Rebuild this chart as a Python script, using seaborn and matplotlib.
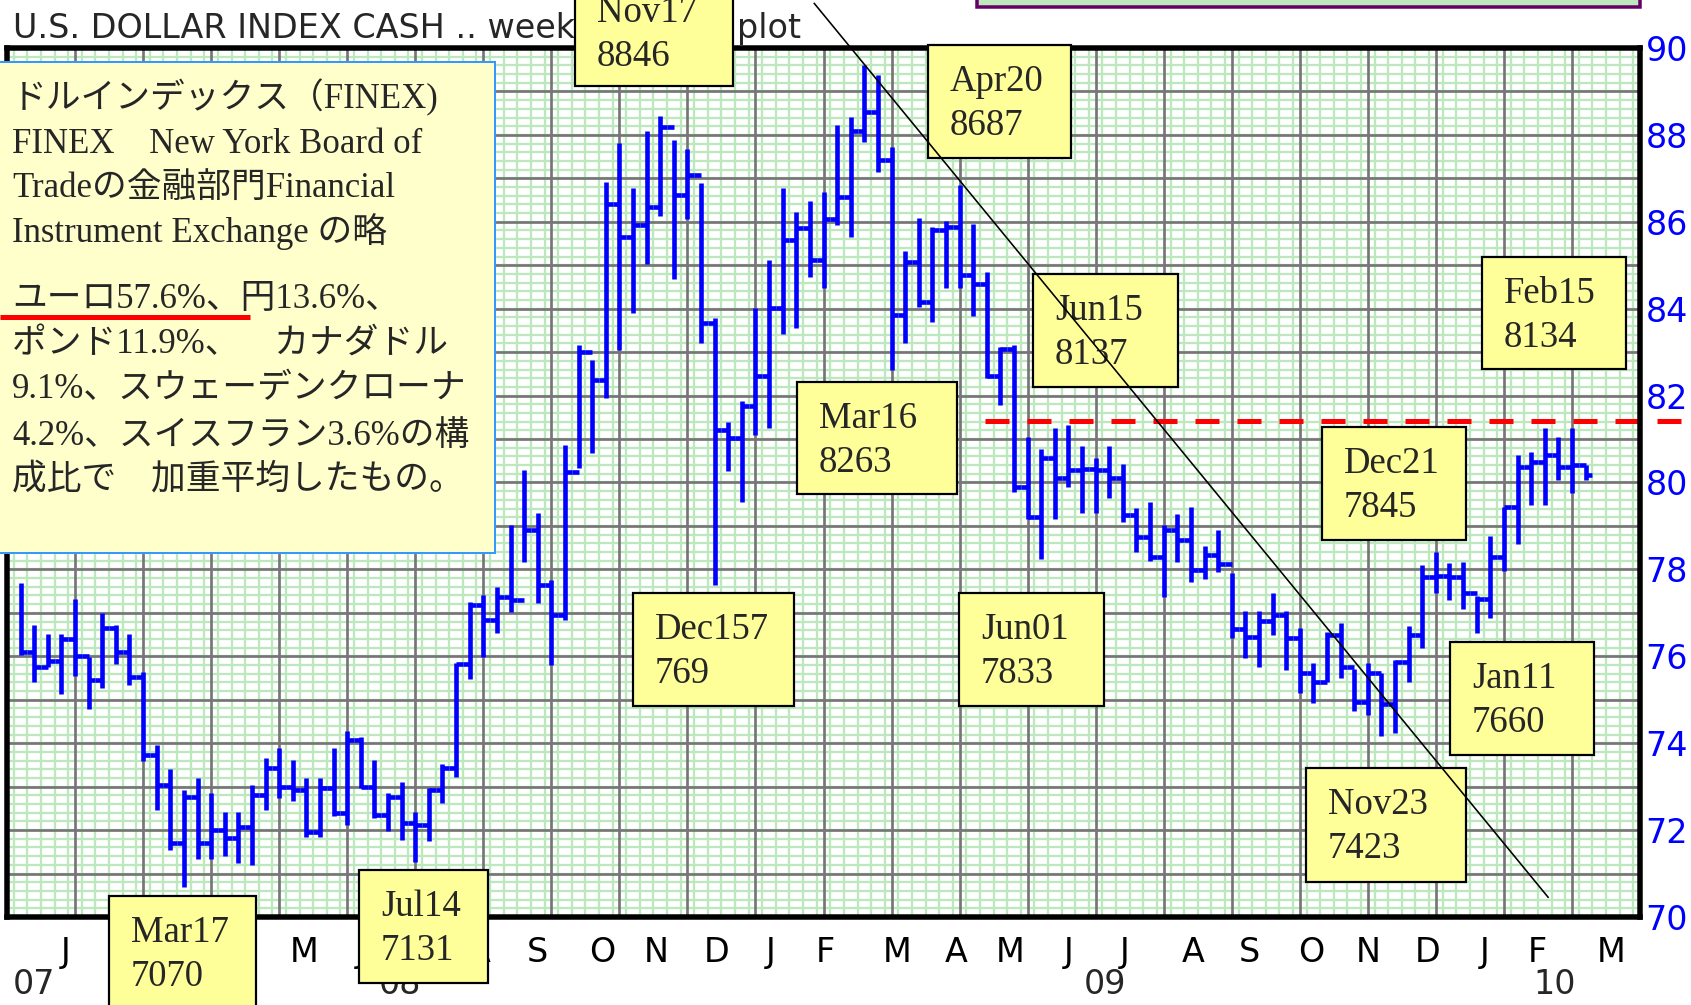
import numpy as np
import pandas as pd
import seaborn as sns
import matplotlib.pyplot as plt
import matplotlib.transforms as mtransforms
from matplotlib.patches import Rectangle

# --- Data (values in index points) ---

FIRST_WEEK = "2007-12-24"   # Monday of the first bar

HIGH = [77.68, 76.72, 76.51, 76.51, 77.33, 75.99, 76.99, 76.72, 76.51, 75.65,
        73.96, 73.40, 72.92, 73.19, 72.85, 72.42, 72.42, 73.04, 73.67, 73.88,
        73.61, 73.19, 73.19, 73.88, 74.27, 74.14, 73.61, 72.85, 73.11, 72.42,
        72.96, 73.52, 75.85, 77.26, 77.41, 77.60, 79.02, 80.29, 79.29, 77.76,
        80.86, 83.16, 82.82, 86.92, 87.82, 86.77, 88.10, 88.43, 87.88, 87.67,
        86.89, 83.78, 81.40, 81.88, 84.01, 85.12, 86.77, 86.23, 86.49, 86.69,
        88.23, 88.42, 89.60, 89.38, 87.73, 85.33, 86.09, 85.89, 86.01, 86.84,
        85.96, 84.85, 83.11, 83.16, 81.05, 80.76, 81.25, 81.32, 80.84, 80.56,
        80.84, 80.43, 79.41, 79.56, 79.02, 79.27, 79.44, 78.55, 78.90, 77.92,
        77.05, 77.05, 77.45, 77.05, 76.64, 75.85, 76.55, 76.76, 75.70, 75.85,
        75.61, 75.92, 76.69, 78.10, 78.41, 78.14, 78.16, 77.39, 78.77, 79.44,
        80.63, 80.71, 81.25, 81.05, 81.25, 80.40]

LOW = [76.03, 75.42, 75.76, 75.13, 75.55, 74.78, 75.26, 75.82, 75.34, 73.58,
       72.46, 71.54, 70.70, 71.33, 71.33, 71.40, 71.25, 71.20, 72.46, 72.73,
       72.67, 71.83, 71.83, 72.32, 72.12, 72.96, 72.27, 71.98, 71.77, 71.27,
       71.75, 72.62, 73.23, 75.47, 75.98, 76.54, 77.03, 78.18, 77.22, 75.80,
       76.84, 80.33, 80.67, 81.94, 83.06, 83.89, 85.04, 86.13, 84.68, 86.06,
       83.20, 77.64, 80.26, 79.56, 81.09, 81.25, 83.42, 83.55, 84.74, 84.47,
       85.93, 85.66, 87.84, 87.15, 82.59, 83.21, 84.03, 83.70, 84.48, 84.48,
       83.84, 82.40, 81.78, 79.77, 79.15, 78.25, 79.15, 79.90, 79.29, 79.29,
       79.64, 79.10, 78.41, 78.19, 77.37, 78.18, 77.71, 77.79, 77.93, 76.41,
       75.97, 75.76, 76.49, 75.68, 75.15, 74.93, 75.42, 75.49, 74.73, 74.65,
       74.17, 74.24, 75.42, 76.20, 77.45, 77.30, 77.08, 76.53, 76.87, 77.97,
       78.58, 79.48, 79.48, 80.06, 79.75, 80.06]

CLOSE = [76.10, 75.76, 75.90, 76.40, 76.00, 75.45, 76.65, 76.10, 75.53, 73.73,
         73.04, 71.70, 72.77, 71.70, 72.00, 71.81, 72.08, 72.80, 73.42, 73.00,
         72.92, 71.96, 72.96, 72.39, 74.07, 73.00, 72.35, 72.77, 72.16, 72.12,
         72.92, 73.42, 75.82, 77.18, 76.84, 77.37, 77.30, 78.91, 77.64, 76.95,
         80.25, 83.01, 82.37, 86.40, 85.66, 85.93, 86.35, 88.19, 86.62, 87.08,
         83.66, 81.21, 81.02, 81.77, 82.44, 84.01, 85.58, 85.85, 85.12, 86.06,
         86.58, 88.10, 88.53, 87.42, 83.86, 85.08, 84.16, 85.81, 85.89, 84.78,
         84.56, 82.45, 83.07, 79.90, 79.21, 80.56, 80.10, 80.29, 80.30, 80.29,
         80.10, 79.25, 78.75, 78.29, 78.90, 78.68, 77.99, 78.33, 78.12, 76.63,
         76.45, 76.82, 76.95, 76.42, 75.61, 75.42, 76.49, 75.76, 74.95, 75.61,
         74.90, 75.88, 76.49, 77.83, 77.85, 77.83, 77.45, 77.33, 78.29, 79.44,
         80.35, 80.48, 80.63, 80.35, 80.40, 80.17]

MONTH_LABELS = ["J", "F", "M", "A", "M", "J", "J", "A", "S", "O", "N", "D",
                "J", "F", "M", "A", "M", "J", "J", "A", "S", "O", "N", "D",
                "J", "F", "M"]
MONTH_DATES = ["2008-01-16", "2008-02-16", "2008-03-17", "2008-04-17", "2008-05-18",
               "2008-06-16", "2008-07-17", "2008-08-16", "2008-09-15", "2008-10-18",
               "2008-11-15", "2008-12-16", "2009-01-13", "2009-02-10", "2009-03-19",
               "2009-04-18", "2009-05-16", "2009-06-15", "2009-07-14", "2009-08-18",
               "2009-09-16", "2009-10-18", "2009-11-16", "2009-12-17", "2010-01-15",
               "2010-02-11", "2010-03-21"]
YEAR_LABELS = ["07", "08", "09", "10"]
YEAR_DATES = ["2007-12-31", "2008-07-06", "2009-07-04", "2010-02-20"]

Y_TICKS = [70, 72, 74, 76, 78, 80, 82, 84, 86, 88, 90]

NOTE_TEXTS = ["Nov17\n8846", "Apr20\n8687", "Mar16\n8263", "Dec157\n769",
              "Jun01\n7833", "Jun15\n8137", "Dec21\n7845", "Feb15\n8134",
              "Jan11\n7660", "Nov23\n7423", "Mar17\n7070", "Jul14\n7131"]

TREND_DATES = ["2009-02-04", "2010-02-17"]
TREND_VALUES = [91.04, 70.44]

RESIST_START = "2009-05-03"
RESIST_LEVEL = 81.42

TITLE_LEFT = "U.S. DOLLAR INDEX CASH .. weekly bar"
TITLE_RIGHT = "plot"

INFO_LINES = ["ドルインデックス（FINEX)",
              "FINEX　New York Board of",
              "Tradeの金融部門Financial",
              "Instrument Exchange の略",
              "ユーロ57.6%、円13.6%、",
              "ポンド11.9%、　カナダドル",
              "9.1%、スウェーデンクローナ",
              "4.2%、スイスフラン3.6%の構",
              "成比で　加重平均したもの。"]

# --- Layout (pixels from the top-left corner of the picture) ---
W, H = 1691, 1005
AX_L, AX_R, AX_T, AX_B = 7, 1640, 48, 917
NOTE_BOXES = [(575, -24, 733, 86), (928, 45, 1071, 158), (797, 382, 957, 494),
              (633, 593, 794, 706), (959, 593, 1104, 706), (1033, 274, 1178, 387),
              (1322, 427, 1466, 540), (1482, 257, 1626, 369), (1450, 642, 1594, 755),
              (1306, 768, 1466, 882), (109, 896, 256, 1010), (359, 870, 488, 983)]
INFO_BASELINES = [108, 153, 197, 242, 308, 353, 398, 445, 488]

BLUE = "#0000ff"
GREEN = "#bde8bd"
GRID = "#767676"
PX2PT = 0.72


def to_week(d):
    return (pd.Timestamp(d) - pd.Timestamp(FIRST_WEEK)).days / 7.0


sns.set_style("white")
plt.rcParams["font.family"] = ["DejaVu Sans"]
plt.rcParams["lines.solid_capstyle"] = "butt"

fig = plt.figure(figsize=(W / 100, H / 100), dpi=100)
fig.patch.set_facecolor("white")
PX = mtransforms.Affine2D().scale(1 / W, -1 / H).translate(0, 1) + fig.transFigure

ax = fig.add_axes([AX_L / W, 1 - AX_B / H, (AX_R - AX_L) / W, (AX_B - AX_T) / H])
ax.set_facecolor("white")

n = len(HIGH)
bars = pd.DataFrame({"week": np.arange(n), "high": HIGH, "low": LOW, "close": CLOSE})
bars["open"] = bars["close"].shift(1)

x0, x1 = -1, 119
ax.set_xlim(x0, x1)
ax.set_ylim(70, 90)

# light green background mesh
for v in np.arange(70.2, 90, 0.2):
    ax.axhline(v, color=GREEN, lw=2.3 * PX2PT, zorder=0.5)
for w in np.arange(x0 + 0.5, x1, 1.0):
    ax.axvline(w, color=GREEN, lw=2.3 * PX2PT, zorder=0.5)

# dark grid: every index point, and every 5 weeks
for v in range(71, 90):
    ax.axhline(v, color=GRID, lw=2.7 * PX2PT, zorder=1)
for w in np.arange(x0 + 5, x1, 5):
    ax.axvline(w, color=GRID, lw=2.7 * PX2PT, zorder=1)

# weekly high-low bars
long = bars.melt(id_vars="week", value_vars=["low", "high"], value_name="value")
sns.lineplot(data=long, x="week", y="value", units="week", estimator=None,
             sort=False, color=BLUE, lw=4.6 * PX2PT, ax=ax, legend=False, zorder=3)
ax.hlines(bars["close"], bars["week"], bars["week"] + 0.5, colors=BLUE,
          lw=4.6 * PX2PT, zorder=3)
op = bars.dropna(subset=["open"])
ax.hlines(op["open"], op["week"] - 0.5, op["week"], colors=BLUE,
          lw=4.6 * PX2PT, zorder=3)

# resistance (red dashed) and trend line
ax.plot([to_week(RESIST_START), x1 + 5], [RESIST_LEVEL, RESIST_LEVEL], color="#ff0000",
        lw=5 * PX2PT, dashes=(4.8, 3.6), clip_on=False, zorder=4)
ax.plot([to_week(d) for d in TREND_DATES], TREND_VALUES, color="black",
        lw=1.6 * PX2PT, clip_on=False, zorder=8)

ax.set_xlabel("")
ax.set_ylabel("")
for s in ax.spines.values():
    s.set_visible(True)
    s.set_color("black")
    s.set_linewidth(5.5 * PX2PT)
    s.set_zorder(5)

ax.yaxis.tick_right()
ax.set_yticks(Y_TICKS)
ax.set_yticklabels([str(t) for t in Y_TICKS])
ax.tick_params(axis="y", length=0, pad=4, labelsize=24, labelcolor=BLUE)
ax.set_xticks([to_week(d) for d in MONTH_DATES])
ax.set_xticklabels(MONTH_LABELS)
ax.tick_params(axis="x", length=0, pad=14, labelsize=24, labelcolor="black")

ylab = mtransforms.blended_transform_factory(ax.transData, PX)
for lbl, d in zip(YEAR_LABELS, YEAR_DATES):
    ax.text(to_week(d), 985, lbl, transform=ylab, ha="center", va="center",
            fontsize=24, clip_on=False)

# title line at the top
ax.text(13, 38, TITLE_LEFT, transform=PX, fontsize=24, va="baseline", ha="left",
        clip_on=False, zorder=5)
ax.text(737, 38, TITLE_RIGHT, transform=PX, fontsize=24, va="baseline", ha="left",
        clip_on=False, zorder=5)

# purple frame peeking at the top right
ax.add_patch(Rectangle((977, -20), 663, 27, transform=PX, facecolor=GREEN,
                       edgecolor="#660066", lw=3.5 * PX2PT, clip_on=False, zorder=6))

# info box
ax.add_patch(Rectangle((-6, 62), 501, 491, transform=PX, facecolor="#ffffcc",
                       edgecolor="#3399ff", lw=2 * PX2PT, clip_on=False, zorder=6))
for line, yb in zip(INFO_LINES, INFO_BASELINES):
    ax.text(12, yb, line, transform=PX, fontsize=25, va="baseline", ha="left",
            family=["Liberation Serif", "Noto Sans CJK JP"], clip_on=False, zorder=7)
ax.plot([0, 250], [317, 317], transform=PX, color="#ff0000", lw=5 * PX2PT,
        clip_on=False, zorder=7)

# labelled turning points
for txt, (l, t, r, b) in zip(NOTE_TEXTS, NOTE_BOXES):
    ax.add_patch(Rectangle((l, t), r - l, b - t, transform=PX, facecolor="#ffff99",
                           edgecolor="black", lw=2.2 * PX2PT, clip_on=False, zorder=6))
    for k, part in enumerate(txt.split("\n")):
        ax.text(l + 22, t + 46 + 44 * k, part, transform=PX, fontsize=26.5,
                family=["Liberation Serif"], va="baseline", ha="left",
                clip_on=False, zorder=7)

fig.savefig("out.png", dpi=100)
